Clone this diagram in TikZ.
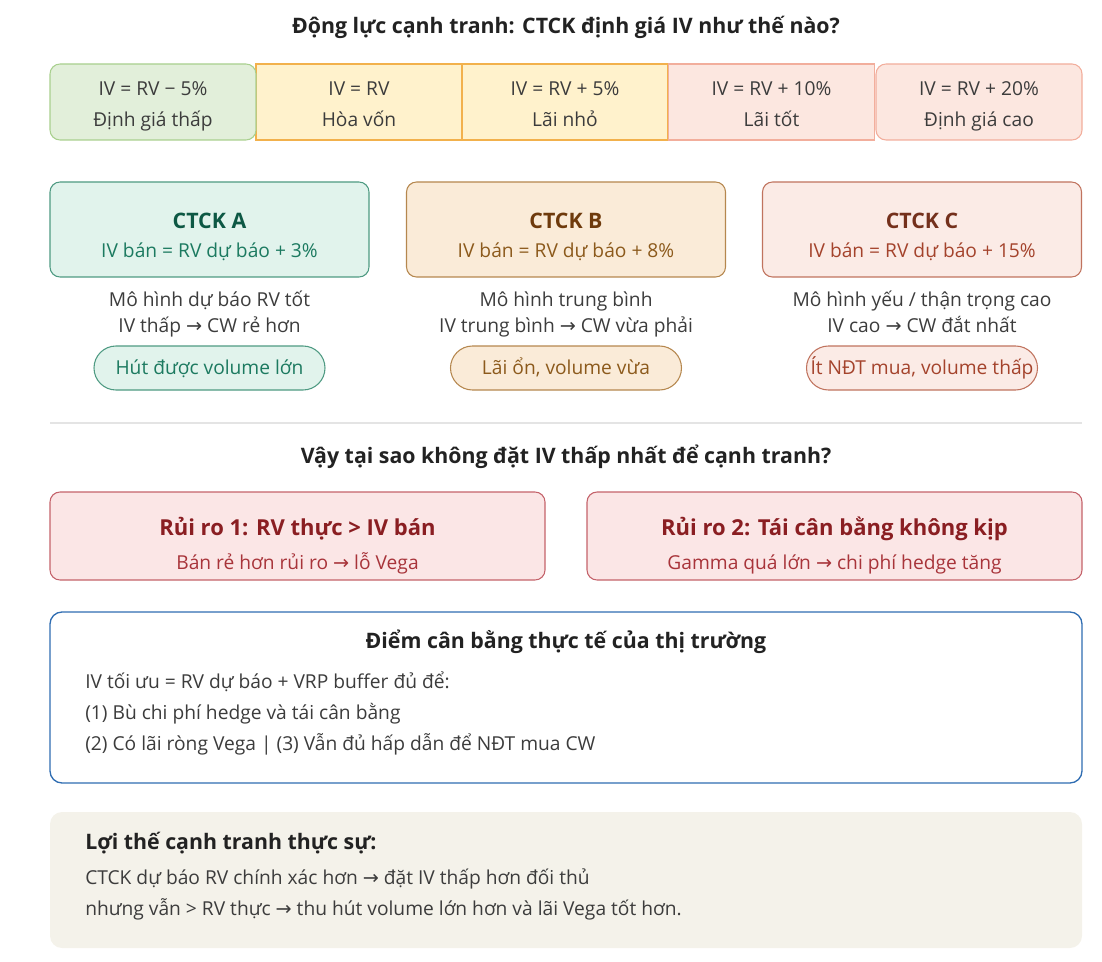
\documentclass[tikz,border=0pt]{standalone}
\usepackage{fontspec}
\setmainfont{Open Sans}
\newfontfamily\symfont{DejaVu Sans}
\newcommand{\rarr}{{\symfont →}}

\definecolor{inkdark}{HTML}{222222}
\definecolor{inkgray}{HTML}{3C3C3C}
\definecolor{lowfill}{HTML}{E2EFDA}
\definecolor{lowline}{HTML}{A9D08E}
\definecolor{midfill}{HTML}{FFF2CC}
\definecolor{midline}{HTML}{F2B14C}
\definecolor{highfill}{HTML}{FCE7E0}
\definecolor{highline}{HTML}{F2AE9C}
\definecolor{afill}{HTML}{E1F3EC}
\definecolor{aline}{HTML}{4E9A82}
\definecolor{ahead}{HTML}{0D5844}
\definecolor{atext}{HTML}{1C7A60}
\definecolor{bfill}{HTML}{FAEBD8}
\definecolor{bline}{HTML}{B5874E}
\definecolor{bhead}{HTML}{6E3A0C}
\definecolor{btext}{HTML}{8C5A1C}
\definecolor{cfill}{HTML}{FBEBE6}
\definecolor{cline}{HTML}{C0735E}
\definecolor{chead}{HTML}{74301C}
\definecolor{ctext}{HTML}{A4432C}
\definecolor{riskfill}{HTML}{FBE6E6}
\definecolor{riskline}{HTML}{C4626A}
\definecolor{riskhead}{HTML}{8A1E22}
\definecolor{risktext}{HTML}{A8343A}
\definecolor{eqline}{HTML}{2F6DB2}
\definecolor{notefill}{HTML}{F4F2EA}
\definecolor{rulegray}{HTML}{E4E4E4}

\begin{document}
\begin{tikzpicture}[x=0.75pt,y=-0.75pt,
    body/.style={font=\fontsize{14.4}{17}\selectfont,text=inkgray,inner sep=0pt,
        text height=11pt,text depth=2pt},
    heading/.style={font=\fontsize{16}{19}\selectfont\bfseries,text=inkdark,inner sep=0pt,
        text height=12pt,text depth=3pt},
    band/.style={draw,line width=0.8pt,minimum width=154.5pt,minimum height=57pt,inner sep=0pt},
    firm/.style={draw,line width=0.8pt,rounded corners=7.5pt,minimum width=239.25pt,
        minimum height=71.25pt,inner sep=0pt},
    pill/.style={draw,line width=0.8pt,rounded corners=16.5pt,minimum width=173.25pt,
        minimum height=33pt,inner sep=0pt},
    risk/.style={draw=riskline,fill=riskfill,line width=0.8pt,rounded corners=7.5pt,
        minimum width=371.25pt,minimum height=66pt,inner sep=0pt}]
  \useasboundingbox (0,0) rectangle (1102,962);

  % title
  \node[heading] (title) at (566,28) {Động lực cạnh tranh: CTCK định giá IV như thế nào?};

  % pricing scale
  \node[band,draw=midline,fill=midfill] (band2) at (359,102) {};
  \node[band,draw=midline,fill=midfill] (band3) at (565,102) {};
  \node[band,draw=highline,fill=highfill] (band4) at (771.5,102) {};
  \node[band,draw=lowline,fill=lowfill,rounded corners=7.5pt] (band1) at (153,102) {};
  \node[band,draw=highline,fill=highfill,rounded corners=7.5pt] (band5) at (979,102) {};
  \node[body] (band1a) at (153,90) {IV = RV − 5\%};
  \node[body] (band1b) at (153,121) {Định giá thấp};
  \node[body] (band2a) at (359,90) {IV = RV};
  \node[body] (band2b) at (359,121) {Hòa vốn};
  \node[body] (band3a) at (565,90) {IV = RV + 5\%};
  \node[body] (band3b) at (565,121) {Lãi nhỏ};
  \node[body] (band4a) at (771.5,90) {IV = RV + 10\%};
  \node[body] (band4b) at (771.5,121) {Lãi tốt};
  \node[body] (band5a) at (979,90) {IV = RV + 20\%};
  \node[body] (band5b) at (979,121) {Định giá cao};

  % three firms
  \node[firm,draw=aline,fill=afill] (firmA) at (209.5,229.5) {};
  \node[firm,draw=bline,fill=bfill] (firmB) at (566,229.5) {};
  \node[firm,draw=cline,fill=cfill] (firmC) at (922,229.5) {};
  \node[heading,text=ahead] (firmAhd) at (209.5,223) {CTCK A};
  \node[heading,text=bhead] (firmBhd) at (566,223) {CTCK B};
  \node[heading,text=chead] (firmChd) at (922,223) {CTCK C};
  \node[body,text=atext] (firmAiv) at (209.5,252) {IV bán = RV dự báo + 3\%};
  \node[body,text=btext] (firmBiv) at (566,252) {IV bán = RV dự báo + 8\%};
  \node[body,text=ctext] (firmCiv) at (922,252) {IV bán = RV dự báo + 15\%};

  \node[body] (firmAm) at (209.5,300) {Mô hình dự báo RV tốt};
  \node[body] (firmAp) at (209.5,327) {IV thấp \rarr\ CW rẻ hơn};
  \node[body] (firmBm) at (566,300) {Mô hình trung bình};
  \node[body] (firmBp) at (566,327) {IV trung bình \rarr\ CW vừa phải};
  \node[body] (firmCm) at (922,300) {Mô hình yếu / thận trọng cao};
  \node[body] (firmCp) at (922,327) {IV cao \rarr\ CW đắt nhất};

  \node[pill,draw=aline,fill=afill,body,text=atext] (pillA) at (209.5,368) {Hút được volume lớn};
  \node[pill,draw=bline,fill=bfill,body,text=btext] (pillB) at (566,368) {Lãi ổn, volume vừa};
  \node[pill,draw=cline,fill=cfill,body,text=ctext] (pillC) at (922,368) {Ít NĐT mua, volume thấp};

  % separator
  \coordinate (ruleL) at (50,423);
  \coordinate (ruleR) at (1082,423);
  \draw[rulegray,line width=0.8pt] (ruleL) -- (ruleR);

  \node[heading] (why) at (566,457) {Vậy tại sao không đặt IV thấp nhất để cạnh tranh?};

  % risks
  \node[risk] (risk1) at (297.5,536) {};
  \node[risk] (risk2) at (834.5,536) {};
  \node[heading,text=riskhead,font=\fontsize{16.5}{19}\selectfont\bfseries] (risk1hd) at (297.5,529) {Rủi ro 1: RV thực > IV bán};
  \node[heading,text=riskhead,font=\fontsize{16.5}{19}\selectfont\bfseries] (risk2hd) at (834.5,529) {Rủi ro 2: Tái cân bằng không kịp};
  \node[body,text=risktext] (risk1tx) at (297.5,563) {Bán rẻ hơn rủi ro \rarr\ lỗ Vega};
  \node[body,text=risktext] (risk2tx) at (834.5,563) {Gamma quá lớn \rarr\ chi phí hedge tăng};

  % equilibrium
  \node[draw=eqline,fill=white,line width=1pt,rounded corners=9pt,minimum width=774pt,
      minimum height=128.25pt,inner sep=0pt] (equil) at (566,697.5) {};
  \node[heading] (equilhd) at (566,642) {Điểm cân bằng thực tế của thị trường};
  \node[body,anchor=west] (equil1) at (85,682) {IV tối ưu = RV dự báo + VRP buffer đủ để:};
  \node[body,anchor=west] (equil2) at (85,713) {(1) Bù chi phí hedge và tái cân bằng};
  \node[body,anchor=west] (equil3) at (85,744) {(2) Có lãi ròng Vega | (3) Vẫn đủ hấp dẫn để NĐT mua CW};

  % real edge
  \node[fill=notefill,rounded corners=9pt,minimum width=774pt,minimum height=102pt,
      inner sep=0pt] (edge) at (566,880) {};
  \node[heading,anchor=west] (edgehd) at (85,843) {Lợi thế cạnh tranh thực sự:};
  \node[body,anchor=west] (edge1) at (85,878) {CTCK dự báo RV chính xác hơn \rarr\ đặt IV thấp hơn đối thủ};
  \node[body,anchor=west] (edge2) at (85,909) {nhưng vẫn > RV thực \rarr\ thu hút volume lớn hơn và lãi Vega tốt hơn.};
\end{tikzpicture}
\end{document}
